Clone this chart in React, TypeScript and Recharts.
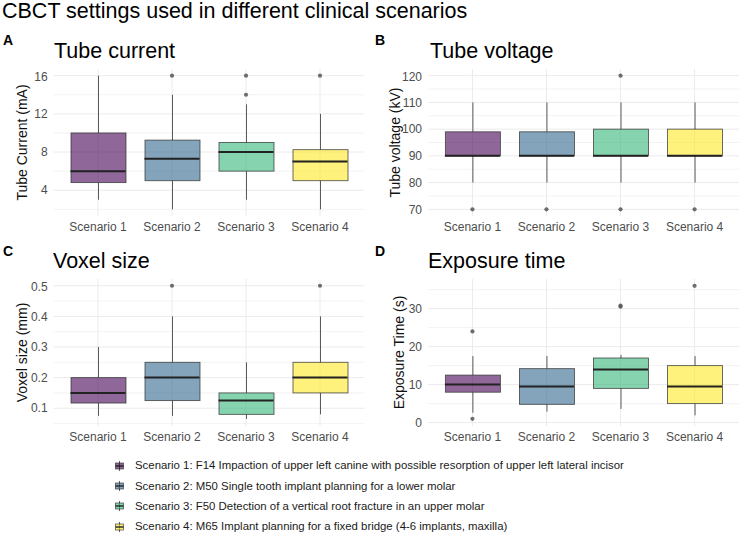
import React from 'react';
import { ComposedChart, Bar, Scatter, XAxis, YAxis, CartesianGrid } from 'recharts';

const scenarios = ['Scenario 1', 'Scenario 2', 'Scenario 3', 'Scenario 4'];
const scenarioColors = ['#440154', '#31688E', '#35B779', '#FDE725'];
const legendLabels = [
  'Scenario 1: F14 Impaction of upper left canine with possible resorption of upper left lateral incisor',
  'Scenario 2: M50 Single tooth implant planning for a lower molar',
  'Scenario 3: F50 Detection of a vertical root fracture in an upper molar',
  'Scenario 4: M65 Implant planning for a fixed bridge (4-6 implants, maxilla)',
];

// Tube current (mA)
const currentLow = [3, 2, 3, 2];
const currentQ1 = [4.8, 5, 6, 5];
const currentMedian = [6, 7.3, 8, 7];
const currentQ3 = [10, 9.25, 9, 8.25];
const currentHigh = [16, 14, 13, 12];
const currentOutliers = [[], [16], [14, 16], [16]];
const currentTicks = [4, 8, 12, 16];
const currentMinor = [2, 6, 10, 14];

// Tube voltage (kV)
const voltageLow = [80, 80, 80, 80];
const voltageQ1 = [90, 90, 90, 90];
const voltageMedian = [90, 90, 90, 90];
const voltageQ3 = [99, 99, 100, 100];
const voltageHigh = [110, 110, 110, 110];
const voltageOutliers = [[70], [70], [70, 120], [70]];
const voltageTicks = [70, 80, 90, 100, 110, 120];
const voltageMinor = [75, 85, 95, 105, 115];

// Voxel size (mm)
const voxelLow = [0.075, 0.075, 0.065, 0.08];
const voxelQ1 = [0.117, 0.125, 0.08, 0.15];
const voxelMedian = [0.15, 0.2, 0.125, 0.2];
const voxelQ3 = [0.2, 0.25, 0.15, 0.25];
const voxelHigh = [0.3, 0.4, 0.25, 0.4];
const voxelOutliers = [[], [0.5], [], [0.5]];
const voxelTicks = [0.1, 0.2, 0.3, 0.4, 0.5];
const voxelMinor = [0.05, 0.15, 0.25, 0.35, 0.45];

// Exposure time (s)
const exposureLow = [2.6, 2.9, 3.6, 1.9];
const exposureQ1 = [8, 4.8, 9, 5];
const exposureMedian = [10, 9.5, 14, 9.5];
const exposureQ3 = [12.5, 14.2, 17, 15];
const exposureHigh = [17.5, 17.5, 17.8, 17.5];
const exposureOutliers = [[24, 1], [], [30.5, 30.8], [36]];
const exposureTicks = [0, 10, 20, 30];
const exposureMinor = [5, 15, 25, 35];

const BOX = 55;
const PLOT_H = 147;
const FONT = '"Liberation Sans", Arial, Helvetica, sans-serif';

function boxRows(low: number[], q1: number[], med: number[], q3: number[], high: number[]) {
  return scenarios.map((name, i) => ({
    name,
    color: scenarioColors[i],
    base: low[i],
    lower: q1[i] - low[i],
    box: q3[i] - q1[i],
    upper: high[i] - q3[i],
    median: med[i],
  }));
}

function outlierRows(outliers: number[][]) {
  return outliers.flatMap((vals, i) => vals.map((v) => ({ name: scenarios[i], value: v })));
}

const Whisker = (props: any) => {
  const { x, y, width, height } = props;
  if (!height) return null;
  const cx = x + width / 2;
  return <line x1={cx} x2={cx} y1={y} y2={y + height} stroke="#333" strokeOpacity={0.8} strokeWidth={1} />;
};

const BoxShape = (props: any) => {
  const { x, y, width, height, payload } = props;
  return (
    <rect x={x} y={y} width={width} height={height} fill={payload.color} fillOpacity={0.6}
      stroke="#333" strokeOpacity={0.8} strokeWidth={0.9} />
  );
};

const MedianLine = (props: any) => {
  const { cx, cy } = props;
  return <line x1={cx - BOX / 2} x2={cx + BOX / 2} y1={cy} y2={cy} stroke="#222" strokeWidth={2} />;
};

const OutlierDot = (props: any) => <circle cx={props.cx} cy={props.cy} r={2.1} fill="#555" fillOpacity={0.85} />;

interface PanelProps {
  rows: any[];
  outliers: any[];
  domain: [number, number];
  ticks: number[];
  minor: number[];
  yLabel: string;
  labelX: number;
  left: number;
  top: number;
  axisW: number;
  plotW: number;
  fmt?: (v: number) => string;
}

function BoxPanel({ rows, outliers, domain, ticks, minor, yLabel, labelX, left, top, axisW, plotW, fmt }: PanelProps) {
  const width = 372;
  const pad = (plotW / 4.2) * 0.1;
  const cy = PLOT_H / 2;
  return (
    <div style={{ position: 'absolute', left, top }}>
      <ComposedChart width={width} height={PLOT_H + 30} data={rows}
        margin={{ top: 0, right: width - axisW - plotW, bottom: 0, left: 0 }}>
        <CartesianGrid horizontalValues={minor} vertical={false} stroke="#ebebeb" strokeWidth={0.6} />
        <CartesianGrid horizontalValues={ticks} syncWithTicks stroke="#ebebeb" strokeWidth={1} />
        <XAxis dataKey="name" type="category" allowDuplicatedCategory={false} interval={0}
          padding={{ left: pad, right: pad }} tickLine={false} axisLine={false} tickSize={0} tickMargin={6}
          height={30} tick={{ fontSize: 12, fill: '#4d4d4d' }} />
        <YAxis type="number" domain={domain} allowDataOverflow ticks={ticks} width={axisW}
          tickLine={false} axisLine={false} tickSize={0} tickMargin={6}
          tick={{ fontSize: 12, fill: '#4d4d4d' }} tickFormatter={fmt}
          label={() => (
            <text x={labelX} y={cy} transform={`rotate(-90, ${labelX}, ${cy})`} textAnchor="middle"
              dominantBaseline="central" fontSize={14} fill="#111">{yLabel}</text>
          )} />
        <Bar dataKey="base" stackId="s" barSize={BOX} shape={() => null} isAnimationActive={false} />
        <Bar dataKey="lower" stackId="s" barSize={BOX} shape={Whisker} isAnimationActive={false} />
        <Bar dataKey="box" stackId="s" barSize={BOX} shape={BoxShape} isAnimationActive={false} />
        <Bar dataKey="upper" stackId="s" barSize={BOX} shape={Whisker} isAnimationActive={false} />
        <Scatter dataKey="median" shape={MedianLine} isAnimationActive={false} />
        <Scatter data={outliers} dataKey="value" shape={OutlierDot} isAnimationActive={false} />
      </ComposedChart>
    </div>
  );
}

const absText = (left: number, top: number, size: number, extra: React.CSSProperties = {}): React.CSSProperties => ({
  position: 'absolute', left, top, fontSize: size, lineHeight: 1, whiteSpace: 'nowrap', color: '#000', ...extra,
});

export default function App() {
  const int = (v: number) => String(v);
  const oneDec = (v: number) => v.toFixed(1);
  return (
    <div style={{ position: 'absolute', left: 0, top: 0, width: 744, height: 537, background: '#fff', fontFamily: FONT, overflow: 'hidden' }}>
      <div style={absText(2, 0.5, 21.5)}>CBCT settings used in different clinical scenarios</div>

      <div style={absText(3, 33, 14, { fontWeight: 'bold' })}>A</div>
      <div style={absText(375, 33, 14, { fontWeight: 'bold' })}>B</div>
      <div style={absText(3, 244, 14, { fontWeight: 'bold' })}>C</div>
      <div style={absText(375, 244, 14, { fontWeight: 'bold' })}>D</div>

      <div style={absText(54, 41, 21.5)}>Tube current</div>
      <div style={absText(430, 41, 21.5)}>Tube voltage</div>
      <div style={absText(53, 251, 21.5)}>Voxel size</div>
      <div style={absText(428, 251, 21.5)}>Exposure time</div>

      <BoxPanel rows={boxRows(currentLow, currentQ1, currentMedian, currentQ3, currentHigh)}
        outliers={outlierRows(currentOutliers)} domain={[1.3, 16.7]} ticks={currentTicks} minor={currentMinor}
        yLabel="Tube Current (mA)" labelX={22} left={0} top={69} axisW={53.6} plotW={310.8} fmt={int} />
      <BoxPanel rows={boxRows(voltageLow, voltageQ1, voltageMedian, voltageQ3, voltageHigh)}
        outliers={outlierRows(voltageOutliers)} domain={[67.5, 122.5]} ticks={voltageTicks} minor={voltageMinor}
        yLabel="Tube voltage (kV)" labelX={23} left={372} top={69} axisW={56} plotW={311} fmt={int} />
      <BoxPanel rows={boxRows(voxelLow, voxelQ1, voxelMedian, voxelQ3, voxelHigh)}
        outliers={outlierRows(voxelOutliers)} domain={[0.042, 0.522]} ticks={voxelTicks} minor={voxelMinor}
        yLabel="Voxel size (mm)" labelX={22} left={0} top={279} axisW={53.6} plotW={310.8} fmt={oneDec} />
      <BoxPanel rows={boxRows(exposureLow, exposureQ1, exposureMedian, exposureQ3, exposureHigh)}
        outliers={outlierRows(exposureOutliers)} domain={[-0.9, 37.8]} ticks={exposureTicks} minor={exposureMinor}
        yLabel="Exposure Time (s)" labelX={27} left={372} top={279} axisW={56} plotW={311} fmt={int} />

      {legendLabels.map((label, i) => {
        const cy = 466 + i * 20.2;
        return (
          <React.Fragment key={label}>
            <svg style={{ position: 'absolute', left: 114.5, top: cy - 5 }} width={9} height={10}>
              <line x1={4.5} x2={4.5} y1={0} y2={10} stroke="#333" strokeOpacity={0.8} />
              <rect x={0.5} y={2} width={8} height={6} fill={scenarioColors[i]} fillOpacity={0.6} stroke="#333" strokeOpacity={0.8} strokeWidth={0.8} />
              <line x1={0.5} x2={8.5} y1={5} y2={5} stroke="#222" strokeWidth={1.4} />
            </svg>
            <div style={absText(135, cy - 5.6, 11.4, { color: '#1a1a1a' })}>{label}</div>
          </React.Fragment>
        );
      })}
    </div>
  );
}
